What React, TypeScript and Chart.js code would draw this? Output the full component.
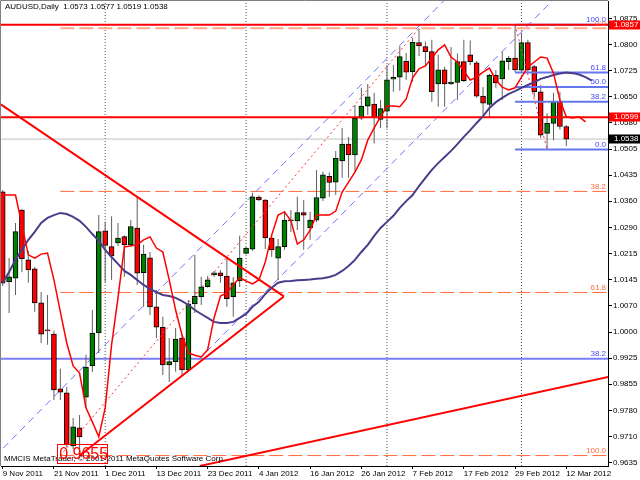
import React, { useEffect, useRef } from 'react';
import Chart from 'chart.js/auto';

const symbolTitle = 'AUDUSD,Daily  1.0573 1.0577 1.0519 1.0538';
const copyrightText = 'MMCIS MetaTrader, \u00A9 2001-2011 MetaQuotes Software Corp.';

const dateTickLabels = ['9 Nov 2011', '21 Nov 2011', '1 Dec 2011', '13 Dec 2011', '23 Dec 2011', '4 Jan 2012', '16 Jan 2012', '26 Jan 2012', '7 Feb 2012', '17 Feb 2012', '29 Feb 2012', '12 Mar 2012'];
const dateTickBars = [0, 8, 16, 24, 32, 40, 48, 56, 64, 72, 80, 88];
const priceTickLabels = ['1.0875', '1.0800', '1.0725', '1.0650', '1.0580', '1.0505', '1.0435', '1.0360', '1.0290', '1.0215', '1.0145', '1.0070', '1.0000', '0.9925', '0.9855', '0.9780', '0.9710', '0.9635'];

const opens = [
  1.0391, 1.0140, 1.0150, 1.0340, 1.0201, 1.0176, 1.0081, 1.0005, 0.9994, 0.9841,
  0.9830, 0.9682, 0.9732, 0.9818, 0.9905, 0.9997, 1.0282, 1.0238, 1.0248, 1.0266,
  1.0243, 1.0290, 1.0165, 1.0207, 1.0070, 1.0013, 0.9908, 0.9917, 0.9983, 0.9894,
  1.0078, 1.0098, 1.0126, 1.0159, 1.0165, 1.0156, 1.0098, 1.0142, 1.0219, 1.0231,
  1.0376, 1.0368, 1.0262, 1.0206, 1.0238, 1.0310, 1.0310, 1.0333, 1.0290, 1.0312,
  1.0373, 1.0434, 1.0418, 1.0477, 1.0524, 1.0494, 1.0596, 1.0630, 1.0636, 1.0593,
  1.0616, 1.0705, 1.0711, 1.0755, 1.0726, 1.0807, 1.0796, 1.0782, 1.0692, 1.0731,
  1.0692, 1.0696, 1.0754, 1.0773, 1.0751, 1.0658, 1.0635, 1.0716, 1.0706, 1.0754,
  1.0764, 1.0730, 1.0807, 1.0740, 1.0670, 1.0554, 1.0582, 1.0642, 1.0573];
const highs = [
  1.0396, 1.0206, 1.0304, 1.0343, 1.0226, 1.0181, 1.0111, 1.0103, 1.0003, 0.9897,
  0.9846, 0.9760, 0.9768, 0.9936, 1.0061, 1.0326, 1.0307, 1.0323, 1.0304, 1.0270,
  1.0312, 1.0377, 1.0243, 1.0223, 1.0117, 1.0042, 0.9983, 1.0011, 0.9991, 1.0089,
  1.0215, 1.0154, 1.0156, 1.0170, 1.0173, 1.0206, 1.0153, 1.0268, 1.0237, 1.0388,
  1.0381, 1.0371, 1.0268, 1.0259, 1.0337, 1.0340, 1.0377, 1.0368, 1.0335, 1.0452,
  1.0447, 1.0445, 1.0505, 1.0569, 1.0544, 1.0633, 1.0681, 1.0692, 1.0667, 1.0647,
  1.0745, 1.0745, 1.0796, 1.0778, 1.0821, 1.0847, 1.0810, 1.0815, 1.0773, 1.0740,
  1.0795, 1.0777, 1.0815, 1.0813, 1.0756, 1.0683, 1.0720, 1.0731, 1.0782, 1.0770,
  1.0857, 1.0831, 1.0815, 1.0745, 1.0689, 1.0610, 1.0667, 1.0670, 1.0577];
const lows = [
  1.0128, 1.0053, 1.0103, 1.0167, 1.0137, 1.0056, 0.9969, 0.9964, 0.9810, 0.9810,
  0.9679, 0.9673, 0.9655, 0.9788, 0.9888, 0.9941, 1.0139, 1.0145, 1.0240, 1.0154,
  1.0237, 1.0131, 1.0070, 1.0047, 0.9983, 0.9880, 0.9860, 0.9889, 0.9880, 0.9888,
  1.0053, 1.0075, 1.0124, 1.0154, 1.0137, 1.0070, 1.0042, 1.0125, 1.0217, 1.0226,
  1.0365, 1.0231, 1.0209, 1.0145, 1.0229, 1.0279, 1.0284, 1.0229, 1.0257, 1.0306,
  1.0365, 1.0377, 1.0382, 1.0430, 1.0430, 1.0447, 1.0591, 1.0605, 1.0526, 1.0569,
  1.0568, 1.0670, 1.0673, 1.0703, 1.0698, 1.0770, 1.0740, 1.0642, 1.0628, 1.0628,
  1.0689, 1.0647, 1.0697, 1.0745, 1.0653, 1.0605, 1.0599, 1.0681, 1.0647, 1.0731,
  1.0725, 1.0725, 1.0725, 1.0655, 1.0541, 1.0509, 1.0535, 1.0565, 1.0519];
const closes = [
  1.0136, 1.0154, 1.0280, 1.0204, 1.0173, 1.0081, 0.9994, 1.0003, 0.9838, 0.9832,
  0.9685, 0.9735, 0.9707, 0.9902, 0.9997, 1.0280, 1.0241, 1.0212, 1.0262, 1.0243,
  1.0294, 1.0164, 1.0217, 1.0070, 1.0013, 0.9908, 0.9917, 0.9980, 0.9894, 1.0078,
  1.0099, 1.0126, 1.0145, 1.0165, 1.0156, 1.0093, 1.0137, 1.0206, 1.0234, 1.0377,
  1.0368, 1.0262, 1.0229, 1.0238, 1.0312, 1.0313, 1.0333, 1.0326, 1.0312, 1.0375,
  1.0438, 1.0417, 1.0484, 1.0524, 1.0494, 1.0596, 1.0630, 1.0656, 1.0598, 1.0623,
  1.0703, 1.0710, 1.0768, 1.0725, 1.0808, 1.0798, 1.0782, 1.0670, 1.0731, 1.0692,
  1.0697, 1.0754, 1.0701, 1.0754, 1.0658, 1.0638, 1.0716, 1.0695, 1.0756, 1.0763,
  1.0731, 1.0807, 1.0731, 1.0670, 1.0549, 1.0582, 1.0642, 1.0573, 1.0538];

const fastMA = [
  1.0382, 1.0382, 1.0382, 1.0298, 1.0215, 1.0206, 1.0217, 1.0220, 1.0145, 1.0056,
  0.9969, 0.9905, 0.9885, 0.9788, 0.9749, 0.9707, 0.9788, 0.9964, 1.0095, 1.0237,
  1.0240, 1.0243, 1.0257, 1.0265, 1.0234, 1.0223, 1.0145, 1.0061, 0.9991, 0.9941,
  0.9935, 0.9930, 0.9950, 1.0039, 1.0100, 1.0109, 1.0131, 1.0151, 1.0142, 1.0134,
  1.0145, 1.0195, 1.0270, 1.0326, 1.0335, 1.0310, 1.0245, 1.0257, 1.0284, 1.0326,
  1.0326, 1.0326, 1.0337, 1.0390, 1.0418, 1.0446, 1.0480, 1.0535, 1.0569, 1.0600,
  1.0630, 1.0630, 1.0628, 1.0650, 1.0709, 1.0734, 1.0742, 1.0764, 1.0787, 1.0801,
  1.0767, 1.0753, 1.0728, 1.0703, 1.0711, 1.0725, 1.0736, 1.0703, 1.0683, 1.0675,
  1.0681, 1.0711, 1.0739, 1.0753, 1.0767, 1.0764, 1.0722, 1.0647, 1.0600, 1.0597,
  1.0600, 1.0586];
const slowMA = [
  1.0137, 1.0167, 1.0201, 1.0229, 1.0257, 1.0279, 1.0304, 1.0318, 1.0326, 1.0332,
  1.0329, 1.0321, 1.0310, 1.0293, 1.0273, 1.0254, 1.0229, 1.0209, 1.0190, 1.0170,
  1.0159, 1.0145, 1.0131, 1.0120, 1.0111, 1.0103, 1.0100, 1.0095, 1.0086, 1.0075,
  1.0061, 1.0050, 1.0039, 1.0028, 1.0025, 1.0025, 1.0028, 1.0039, 1.0050, 1.0070,
  1.0084, 1.0106, 1.0123, 1.0137, 1.0141, 1.0142, 1.0144, 1.0145, 1.0146, 1.0148,
  1.0150, 1.0153, 1.0159, 1.0170, 1.0184, 1.0201, 1.0223, 1.0243, 1.0268, 1.0290,
  1.0307, 1.0324, 1.0346, 1.0365, 1.0382, 1.0407, 1.0430, 1.0452, 1.0471, 1.0488,
  1.0505, 1.0524, 1.0544, 1.0563, 1.0583, 1.0602, 1.0625, 1.0641, 1.0653, 1.0664,
  1.0672, 1.0681, 1.0689, 1.0697, 1.0706, 1.0711, 1.0717, 1.0721, 1.0724, 1.0722,
  1.0718, 1.0711, 1.0701];

const redLevels = [1.0857, 1.0599];
const bidPrice = 1.0538;
const blueLevel = 0.9925;
const blueLevelLabel = '38.2';
const fibOrangeLevels = [1.0847, 1.0392, 1.0110, 0.9655];
const fibOrangeLabels = ['0.0', '38.2', '61.8', '100.0'];
const fibOrangeStart = 9;
const fibBlueLevels = [1.0857, 1.0724, 1.0683, 1.0642, 1.0509];
const fibBlueLabels = ['100.0', '61.8', '50.0', '38.2', '0.0'];
const fibBlueStart = 80;
const fibTrendA = [[9, 0.9655], [65, 1.0847]];
const fibTrendB = [[80, 1.0857], [85, 1.0509]];
const channelUpper = [[0.1, 0.9676], [75, 1.1035]];
const channelLower = [[30.5, 0.9921], [90, 1.1000]];
const triangleUpper = [[-0.3, 1.0635], [43.9, 1.0099]];
const triangleLower = [[12, 0.9655], [43.9, 1.0099]];
const supportLine = [[30.8, 0.9626], [96, 0.9880]];
const separatorBars = [16, 38, 60, 81];
const lowLabel = '0.9655';
const lowLabelBar = 8.5;
const lowLabelPrice = 0.9688;
const priceBoxes = [
  { price: 1.0857, label: '1.0857', color: '#ff0000' },
  { price: 1.0599, label: '1.0599', color: '#ff0000' },
  { price: 1.0538, label: '1.0538', color: '#000000' },
];

const X_MIN = -0.2654;
const X_MAX = 94.51;
const Y_MAX = 1.092327;
const Y_MIN = 0.962584;
const FONT = '"Liberation Sans", Arial, sans-serif';

export default function App() {
  const ref = useRef<HTMLCanvasElement>(null);

  useEffect(() => {
    const canvas = ref.current;
    if (!canvas) return;
    const bars = opens.map((_, i) => i);
    const pts = (arr: number[][]) => arr.map(([x, y]) => ({ x, y }));
    const line = (data: any[], color: string, width: number, order: number, dash: number[] = []) => ({
      type: 'line', data, borderColor: color, borderWidth: width, borderDash: dash,
      pointRadius: 0, pointHoverRadius: 0, fill: false, tension: 0, order,
    });
    const datasets: any[] = [];
    separatorBars.forEach((b) => datasets.push(line([{ x: b, y: Y_MIN }, { x: b, y: Y_MAX }], '#505050', 1, 40, [1, 2])));
    datasets.push(line([{ x: X_MIN - 2, y: bidPrice }, { x: X_MAX + 2, y: bidPrice }], '#c0c0c0', 1, 39));
    datasets.push({
      type: 'bar', data: bars.map((i) => ({ x: i, y: [lows[i], highs[i]] })),
      backgroundColor: '#606060', borderWidth: 0, barThickness: 1, grouped: false, inflateAmount: 0, order: 21,
    });
    datasets.push({
      type: 'bar', data: bars.map((i) => ({ x: i, y: [opens[i], closes[i]] })),
      backgroundColor: bars.map((i) => (closes[i] >= opens[i] ? '#008000' : '#ff0000')),
      borderColor: '#000000', borderWidth: 1, borderSkipped: false, barThickness: 5,
      grouped: false, minBarLength: 1, order: 20,
    });
    fibOrangeLevels.forEach((lv, k) => datasets.push(line(
      [{ x: fibOrangeStart, y: lv }, { x: X_MAX + 2, y: lv }],
      k === 0 ? '#ffa888' : '#ff6a3a', k === 0 ? 2 : 1, 30, [14, 5])));
    datasets.push(line([{ x: X_MIN - 2, y: blueLevel }, { x: X_MAX + 2, y: blueLevel }], '#7c7cf8', 2, 29));
    datasets.push(line(pts(channelUpper), '#7070ff', 1, 28, [7, 5]));
    datasets.push(line(pts(channelLower), '#7070ff', 1, 28, [7, 5]));
    fibBlueLevels.forEach((lv) => datasets.push(line([{ x: fibBlueStart, y: lv }, { x: X_MAX + 2, y: lv }], '#6677ee', 2, 12)));
    datasets.push(line(pts(fibTrendA), '#ff3030', 1, 11, [2, 3]));
    datasets.push(line(pts(fibTrendB), '#ff3030', 1, 11, [2, 3]));
    datasets.push(line(pts(triangleUpper), '#ff0000', 2, 10));
    datasets.push(line(pts(triangleLower), '#ff0000', 2, 10));
    datasets.push(line(pts(supportLine), '#ff0000', 2, 10));
    redLevels.forEach((lv) => datasets.push(line([{ x: X_MIN - 2, y: lv }, { x: X_MAX + 2, y: lv }], '#ff0000', 2, 9)));
    datasets.push(line(slowMA.map((v, i) => ({ x: i, y: v })), '#483d8b', 2, 7));
    datasets.push(line(fastMA.map((v, i) => ({ x: i, y: v })), '#ff0000', 1.5, 6));

    const decor = {
      id: 'decor',
      afterDraw(chart: any) {
        const { ctx, chartArea: a, scales } = chart;
        const xs = scales.x;
        const ys = scales.y;
        ctx.save();
        ctx.strokeStyle = '#808080';
        ctx.lineWidth = 1;
        ctx.beginPath();
        ctx.moveTo(a.left - 0.5, a.bottom);
        ctx.lineTo(a.left - 0.5, a.top - 0.5);
        ctx.lineTo(a.right, a.top - 0.5);
        ctx.stroke();

        ctx.font = `8px ${FONT}`;
        ctx.fillStyle = '#000000';
        ctx.textAlign = 'left';
        ctx.textBaseline = 'middle';
        ctx.fillText(symbolTitle, 5, 7);
        ctx.fillText(copyrightText, 4, 459);

        ctx.textAlign = 'right';
        ctx.textBaseline = 'bottom';
        ctx.fillStyle = '#ff6a3a';
        fibOrangeLevels.forEach((lv, k) => ctx.fillText(fibOrangeLabels[k], a.right - 2, ys.getPixelForValue(lv) - 1));
        ctx.fillStyle = '#4646ff';
        fibBlueLevels.forEach((lv, k) => ctx.fillText(fibBlueLabels[k], a.right - 2, ys.getPixelForValue(lv) - 1));
        ctx.fillText(blueLevelLabel, a.right - 2, ys.getPixelForValue(blueLevel) - 1);

        const lx = xs.getPixelForValue(lowLabelBar);
        const ly = ys.getPixelForValue(lowLabelPrice);
        ctx.strokeStyle = '#ff0000';
        ctx.strokeRect(Math.round(lx) + 0.5, Math.round(ly) + 0.5, 50, 19);
        ctx.font = `16px ${FONT}`;
        ctx.textAlign = 'left';
        ctx.textBaseline = 'top';
        ctx.fillStyle = '#ff0000';
        ctx.fillText(lowLabel, lx + 2, ly + 3);

        ctx.font = `8px ${FONT}`;
        ctx.textBaseline = 'middle';
        priceBoxes.forEach((b) => {
          const y = ys.getPixelForValue(b.price);
          ctx.fillStyle = b.color;
          ctx.fillRect(a.right + 1, Math.round(y) - 4.5, 640 - a.right - 1, 9);
          ctx.fillStyle = '#ffffff';
          ctx.fillText(b.label, a.right + 6, y);
        });
        ctx.restore();
      },
    };

    const chart = new Chart(canvas, {
      type: 'bar',
      data: { datasets },
      options: {
        animation: false,
        responsive: false,
        maintainAspectRatio: false,
        layout: { padding: { left: 1, top: 1, right: 0, bottom: 0 } },
        plugins: { legend: { display: false }, tooltip: { enabled: false }, title: { display: false } },
        events: [],
        scales: {
          x: {
            type: 'linear', position: 'bottom', min: X_MIN, max: X_MAX, offset: false,
            grid: { drawOnChartArea: false, drawTicks: true, tickLength: 3, color: '#000000', offset: false },
            border: { display: true, color: '#000000', width: 1 },
            ticks: {
              autoSkip: false, maxRotation: 0, minRotation: 0, align: 'start', padding: 0,
              color: '#000000', font: { family: FONT, size: 8 },
              callback: (v: any) => {
                const k = dateTickBars.indexOf(Number(v));
                return k >= 0 ? dateTickLabels[k] : '';
              },
            },
            afterBuildTicks: (s: any) => { s.ticks = dateTickBars.map((v) => ({ value: v })); },
            afterFit: (s: any) => { s.height = 14; s.paddingLeft = 0; s.paddingRight = 0; },
          },
          y: {
            type: 'linear', position: 'right', min: Y_MIN, max: Y_MAX,
            grid: { drawOnChartArea: false, drawTicks: true, tickLength: 4, color: '#000000' },
            border: { display: true, color: '#000000', width: 1 },
            ticks: {
              autoSkip: false, padding: 1, color: '#000000', font: { family: FONT, size: 8 },
              callback: (_v: any, i: number) => priceTickLabels[i],
            },
            afterBuildTicks: (s: any) => {
              const top = parseFloat(priceTickLabels[0]);
              const bottom = parseFloat(priceTickLabels[priceTickLabels.length - 1]);
              const step = (top - bottom) / (priceTickLabels.length - 1);
              s.ticks = priceTickLabels.map((_, k) => ({ value: top - k * step }));
            },
            afterFit: (s: any) => { s.width = 32; s.paddingTop = 0; s.paddingBottom = 0; },
          },
        },
      } as any,
      plugins: [decor],
    } as any);
    return () => chart.destroy();
  }, []);

  return (
    <div style={{ position: 'fixed', left: 0, top: 0, width: 640, height: 480, background: '#ffffff' }}>
      <canvas ref={ref} width={640} height={480} style={{ display: 'block', width: 640, height: 480 }} />
    </div>
  );
}
